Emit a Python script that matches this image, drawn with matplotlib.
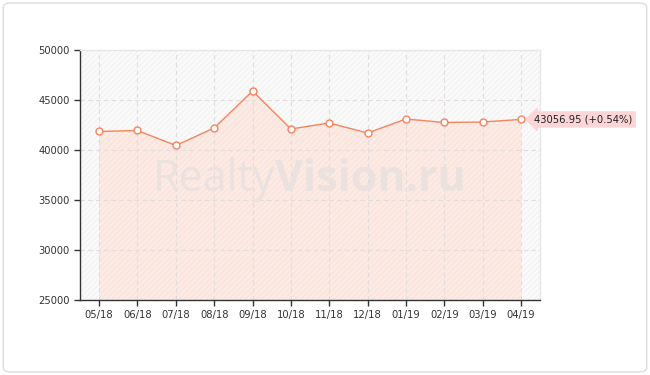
import matplotlib
matplotlib.use("Agg")
import matplotlib.pyplot as plt
from matplotlib.patches import FancyBboxPatch

labels = ["05/18", "06/18", "07/18", "08/18", "09/18", "10/18", "11/18", "12/18",
          "01/19", "02/19", "03/19", "04/19"]
values = [41850, 41950, 40450, 42200, 45900, 42100, 42700, 41700, 43100, 42750, 42800, 43056.95]
yticks = [25000, 30000, 35000, 40000, 45000, 50000]
last_label = "43056.95 (+0.54%)"

plt.rcParams["hatch.linewidth"] = 0.6
line_c = "#f4845c"
fig = plt.figure(figsize=(6.5, 3.75), dpi=100)
fig.patch.set_facecolor("white")
fig.patches.append(FancyBboxPatch((0.005, 0.008), 0.99, 0.984,
                                  boxstyle="round,pad=0,rounding_size=0.012",
                                  transform=fig.transFigure, facecolor="white",
                                  edgecolor="#dddddd", lw=1, zorder=-1))
ax = fig.add_axes([0.123, 0.2, 0.708, 0.6667])
ax.set_facecolor("#fafafa")
x = list(range(len(labels)))
ax.set_xlim(-0.5, 11.5)
ax.set_ylim(25000, 50000)

# background hatch
ax.fill_between([-0.5, 11.5], 25000, 50000, facecolor="none", edgecolor="#f0f0f0",
                hatch="//////", lw=0, zorder=0)
ax.fill_between(x, 25000, values, facecolor="#fcebe5", edgecolor="#f9e0d8",
                hatch="//////", lw=0, zorder=1)
for xi in x:
    ax.axvline(xi, color="#e2dcdc", lw=0.8, ls=(0, (4, 3)), zorder=1.5)
for yt in yticks[1:-1]:
    ax.axhline(yt, color="#e2dcdc", lw=0.8, ls=(0, (4, 3)), zorder=1.5)

ax.text(4.59, 37000, "Realty", fontsize=31, color="#ebe1de", ha="right", va="center",
        zorder=2, family="Open Sans")
ax.text(4.59, 37000, "Vision.ru", fontsize=31, color="#ebe1de", ha="left", va="center",
        fontweight="bold", zorder=2, family="Open Sans")

ax.plot(x, values, color=line_c, lw=1, zorder=3)
ax.plot(x, values, "o", ms=5, mfc="white", mec=line_c, mew=1, zorder=4)

ax.annotate(last_label, xy=(11, values[-1]), xytext=(11.35, values[-1]),
            fontsize=7.2, color="#222222", va="center", ha="left",
            bbox=dict(boxstyle="larrow,pad=0.25", fc="#fcd6d6", ec="#fcd6d6"),
            annotation_clip=False, zorder=5)

ax.set_xticks(x)
ax.set_xticklabels(labels)
ax.set_yticks(yticks)
ax.tick_params(axis="both", labelsize=7.2, colors="#333333", length=4, width=1)
ax.tick_params(axis="x", pad=3)
for s in ["left", "bottom"]:
    ax.spines[s].set_color("#333333")
    ax.spines[s].set_linewidth(1)
for s in ["top", "right"]:
    ax.spines[s].set_color("#e6e6e6")
    ax.spines[s].set_linewidth(1)

fig.savefig("out.png", dpi=100, facecolor="white")
